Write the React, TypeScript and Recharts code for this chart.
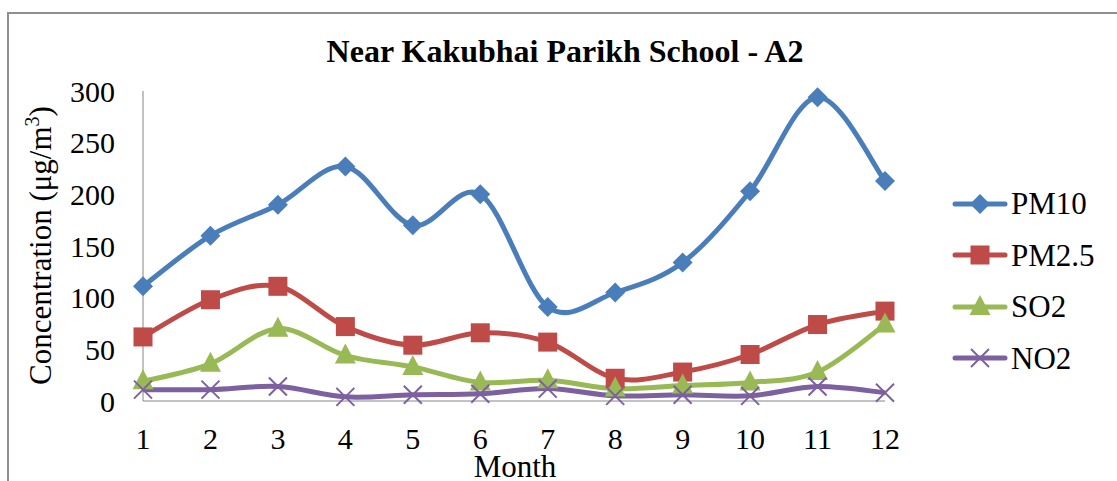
import { LineChart, Line, XAxis, YAxis, Legend } from 'recharts'

const months = ['1', '2', '3', '4', '5', '6', '7', '8', '9', '10', '11', '12']
const pm10 = [111, 160, 190, 227, 170, 200, 91, 105, 134, 203, 294, 213]
const pm25 = [62, 98, 111, 72, 54, 66, 57, 22, 28, 45, 74, 87]
const so2 = [19, 36, 70, 44, 33, 18, 20, 12, 15, 18, 28, 74]
const no2 = [11, 11, 14, 4, 6, 7, 12, 5, 6, 5, 14, 8]
const yTicks = [0, 50, 100, 150, 200, 250, 300]

const data = months.map((m, i) => ({
  month: m,
  PM10: pm10[i],
  'PM2.5': pm25[i],
  SO2: so2[i],
  NO2: no2[i],
}))

const FONT = '"Liberation Serif", "Times New Roman", serif'
const AXIS = '#868686'

const colors: Record<string, string> = {
  PM10: '#4A7EBB',
  'PM2.5': '#BE4B48',
  SO2: '#98B954',
  NO2: '#7D60A0',
}

// smooth line like the spreadsheet's "smoothed line" option (catmull-rom)
const smoothCurve = (context: any) => {
  let pts: number[][] = []
  return {
    areaStart() {},
    areaEnd() {},
    lineStart() {
      pts = []
    },
    point(x: number, y: number) {
      pts.push([+x, +y])
    },
    lineEnd() {
      const n = pts.length
      if (!n) return
      context.moveTo(pts[0][0], pts[0][1])
      for (let i = 0; i < n - 1; i++) {
        const p0 = pts[Math.max(i - 1, 0)]
        const p1 = pts[i]
        const p2 = pts[i + 1]
        const p3 = pts[Math.min(i + 2, n - 1)]
        context.bezierCurveTo(
          p1[0] + (p2[0] - p0[0]) / 6,
          p1[1] + (p2[1] - p0[1]) / 6,
          p2[0] - (p3[0] - p1[0]) / 6,
          p2[1] - (p3[1] - p1[1]) / 6,
          p2[0],
          p2[1]
        )
      }
    },
  }
}

function Marker({ name, cx, cy }: { name: string; cx: number; cy: number }) {
  const c = colors[name]
  if (name === 'PM10') {
    return <polygon points={`${cx},${cy - 10} ${cx + 10},${cy} ${cx},${cy + 10} ${cx - 10},${cy}`} fill={c} />
  }
  if (name === 'PM2.5') {
    return <rect x={cx - 9.5} y={cy - 9.5} width={19} height={19} fill={c} />
  }
  if (name === 'SO2') {
    return <polygon points={`${cx},${cy - 12} ${cx + 10.5},${cy + 8} ${cx - 10.5},${cy + 8}`} fill={c} />
  }
  return (
    <g stroke={c} strokeWidth={2}>
      <line x1={cx - 9} y1={cy - 9} x2={cx + 9} y2={cy + 9} />
      <line x1={cx - 9} y1={cy + 9} x2={cx + 9} y2={cy - 9} />
    </g>
  )
}

const dotFor = (name: string) => (props: any) => (
  <g key={`${name}-${props.index}`}>
    <Marker name={name} cx={props.cx} cy={props.cy} />
  </g>
)

function LegendBox() {
  return (
    <div style={{ fontFamily: FONT, fontSize: 31, color: '#000' }}>
      {Object.keys(colors).map(name => (
        <div key={name} style={{ display: 'flex', alignItems: 'center', height: 51.5 }}>
          <svg width={58} height={30} style={{ overflow: 'visible' }}>
            <line x1={2} y1={15} x2={52} y2={15} stroke={colors[name]} strokeWidth={5} strokeLinecap="round" />
            <Marker name={name} cx={27} cy={15} />
          </svg>
          <span style={{ lineHeight: 1 }}>{name}</span>
        </div>
      ))}
    </div>
  )
}

export default function App() {
  const series = ['PM10', 'PM2.5', 'SO2', 'NO2']
  return (
    <div
      style={{
        position: 'absolute',
        left: 0,
        top: 0,
        width: 1117,
        height: 481,
        overflow: 'hidden',
        background: '#fff',
      }}
    >
      <div
        style={{
          position: 'absolute',
          left: 7,
          top: 12,
          width: 1300,
          height: 700,
          border: `2px solid #8f8f8f`,
        }}
      />
      <div
        style={{
          position: 'absolute',
          left: 265,
          top: 35,
          width: 600,
          textAlign: 'center',
          fontFamily: FONT,
          fontWeight: 'bold',
          fontSize: 32,
          lineHeight: 1,
        }}
      >
        Near Kakubhai Parikh School - A2
      </div>
      <div
        style={{
          position: 'absolute',
          left: 40 - 160,
          top: 247 - 17,
          width: 320,
          textAlign: 'center',
          fontFamily: FONT,
          fontSize: 31,
          lineHeight: 1,
          transform: 'rotate(-90deg)',
          whiteSpace: 'nowrap',
        }}
      >
        Concentration (μg/m<sup style={{ fontSize: 20, verticalAlign: 'super', lineHeight: 0 }}>3</sup>)
      </div>
      <div
        style={{
          position: 'absolute',
          left: 415,
          top: 451,
          width: 200,
          textAlign: 'center',
          fontFamily: FONT,
          fontSize: 31,
          lineHeight: 1,
        }}
      >
        Month
      </div>
      <div style={{ position: 'absolute', left: 0, top: 0 }}>
        <LineChart
          width={1117}
          height={481}
          data={data}
          margin={{ top: 91, right: 232, bottom: 0, left: 0 }}
        >
          <XAxis
            dataKey="month"
            height={80}
            stroke={AXIS}
            tickLine={false}
            tickSize={0}
            tickMargin={27}
            interval={0}
            tick={{ fill: '#000', fontSize: 30, fontFamily: FONT }}
          />
          <YAxis
            width={143}
            domain={[0, 300]}
            ticks={yTicks}
            stroke={AXIS}
            tickLine={false}
            tickSize={0}
            tickMargin={28}
            tick={{ fill: '#000', fontSize: 30, fontFamily: FONT }}
          />
          <Legend
            layout="vertical"
            align="center"
            verticalAlign="middle"
            wrapperStyle={{ left: 953, top: 178, width: 160 }}
            content={() => <LegendBox />}
          />
          {series.map(name => (
            <Line
              key={name}
              dataKey={name}
              type={smoothCurve as any}
              stroke={colors[name]}
              strokeWidth={5}
              dot={dotFor(name)}
              activeDot={false}
              isAnimationActive={false}
            />
          ))}
        </LineChart>
      </div>
    </div>
  )
}
